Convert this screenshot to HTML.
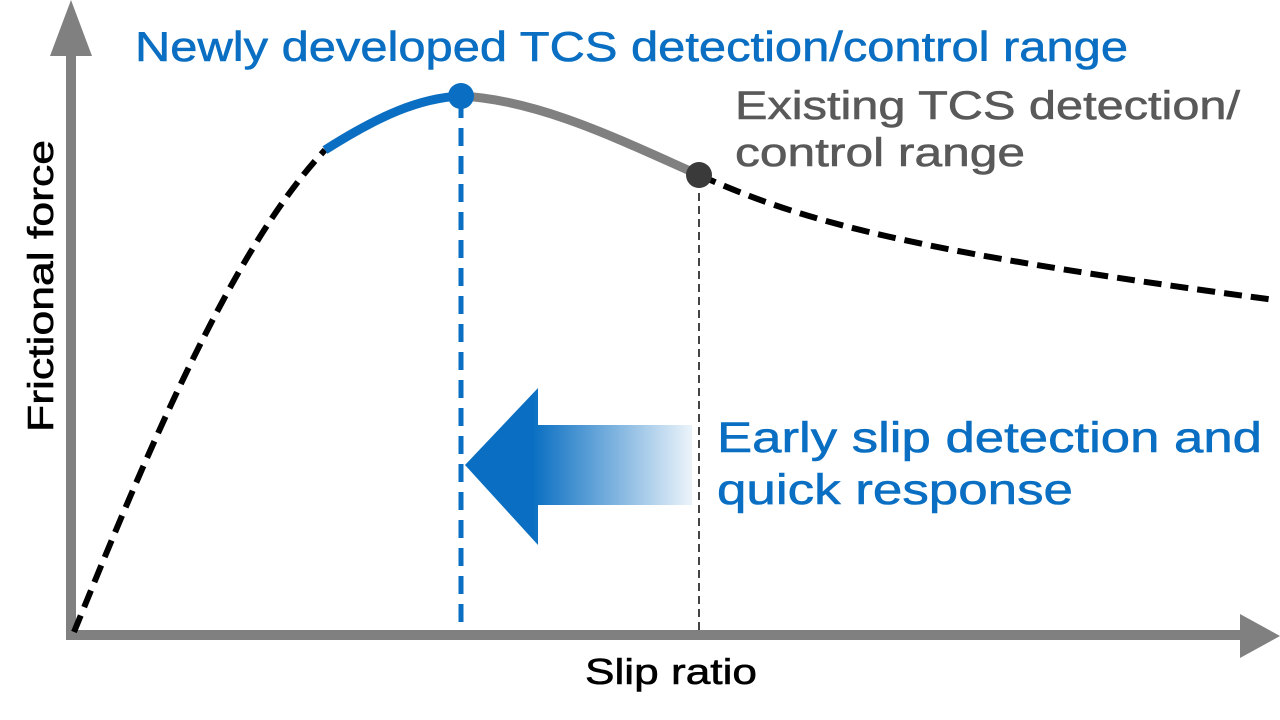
<!DOCTYPE html>
<html><head><meta charset="utf-8"><style>
html,body{margin:0;padding:0;background:#fff;width:1280px;height:720px;overflow:hidden}
</style></head><body>
<svg width="1280" height="720" viewBox="0 0 1280 720" xmlns="http://www.w3.org/2000/svg" font-family="Liberation Sans, sans-serif">
<defs>
<linearGradient id="g" x1="465" y1="0" x2="692" y2="0" gradientUnits="userSpaceOnUse">
<stop offset="0" stop-color="#0a6fc2"/><stop offset="0.3" stop-color="#0a6fc2"/><stop offset="1" stop-color="#0a6fc2" stop-opacity="0.08"/>
</linearGradient>
</defs>
<line x1="71" y1="50" x2="71" y2="640" stroke="#808080" stroke-width="10"/>
<polygon points="71,0 50,56 92,56" fill="#808080"/>
<line x1="66" y1="635" x2="1245" y2="635" stroke="#808080" stroke-width="10"/>
<polygon points="1280,636 1240,614 1240,658" fill="#808080"/>
<line x1="461" y1="100" x2="461" y2="632" stroke="#0a6fc2" stroke-width="5" stroke-dasharray="18,10"/>
<line x1="699" y1="180" x2="699" y2="632" stroke="#444" stroke-width="2" stroke-dasharray="8,5"/>
<path d="M74,632 C140,470 230,250 325,150" fill="none" stroke="#000" stroke-width="6" stroke-dasharray="18,9"/>
<path d="M325,150 C380,115 420,98 461,96" fill="none" stroke="#0a6fc2" stroke-width="9"/>
<path d="M461,96 C540,100 620,140 699,175" fill="none" stroke="#808080" stroke-width="9"/>
<path d="M699,175 C800,220 900,250 1275,300" fill="none" stroke="#000" stroke-width="6" stroke-dasharray="18,9"/>
<circle cx="461" cy="96" r="13" fill="#0a6fc2"/>
<circle cx="699" cy="175" r="13" fill="#3a3a3a"/>
<polygon points="465,465 538,388 538,425 692,425 692,505 538,505 538,545" fill="url(#g)"/>
<g stroke-width="0.6">
<text x="135" y="61" font-size="42" fill="#0a6fc2" stroke="#0a6fc2" textLength="993" lengthAdjust="spacingAndGlyphs">Newly developed TCS detection/control range</text>
<text x="735" y="119" font-size="40" fill="#595959" stroke="#595959" textLength="505" lengthAdjust="spacingAndGlyphs">Existing TCS detection/</text>
<text x="735" y="166" font-size="40" fill="#595959" stroke="#595959" textLength="290" lengthAdjust="spacingAndGlyphs">control range</text>
<text x="717" y="452" font-size="43" fill="#0a6fc2" stroke="#0a6fc2" textLength="545" lengthAdjust="spacingAndGlyphs">Early slip detection and</text>
<text x="717" y="504" font-size="43" fill="#0a6fc2" stroke="#0a6fc2" textLength="356" lengthAdjust="spacingAndGlyphs">quick response</text>
<text x="585" y="684" font-size="36" fill="#000" stroke="#000" textLength="172" lengthAdjust="spacingAndGlyphs">Slip ratio</text>
<text transform="translate(53,432) rotate(-90)" font-size="36" fill="#000" stroke="#000" textLength="292" lengthAdjust="spacingAndGlyphs">Frictional force</text>
</g>
</svg>
</body></html>
